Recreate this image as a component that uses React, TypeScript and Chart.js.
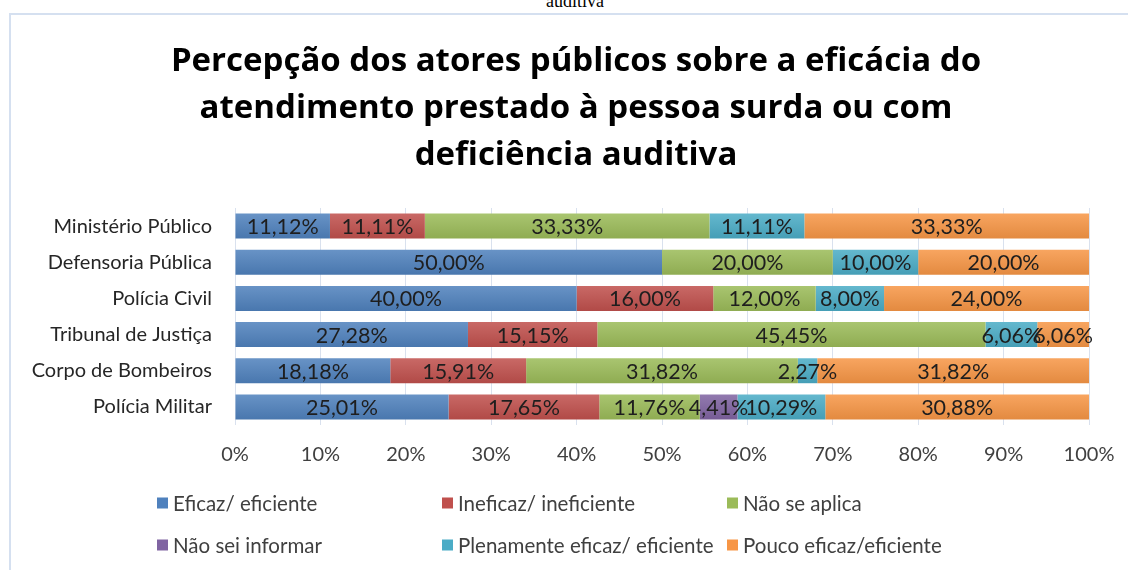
import React, { useEffect, useRef } from "react";
import { Chart, registerables } from "chart.js";

Chart.register(...registerables);

const categories = [
  "Ministério Público",
  "Defensoria Pública",
  "Polícia Civil",
  "Tribunal de Justiça",
  "Corpo de Bombeiros",
  "Polícia Militar",
];
const seriesNames = [
  "Eficaz/ eficiente",
  "Ineficaz/ ineficiente",
  "Não se aplica",
  "Não sei informar",
  "Plenamente eficaz/ eficiente",
  "Pouco eficaz/eficiente",
];
const eficaz = [11.12, 50.0, 40.0, 27.28, 18.18, 25.01];
const ineficaz = [11.11, 0, 16.0, 15.15, 15.91, 17.65];
const naoSeAplica = [33.33, 20.0, 12.0, 45.45, 31.82, 11.76];
const naoSeiInformar = [0, 0, 0, 0, 0, 4.41];
const plenamente = [11.11, 10.0, 8.0, 6.06, 2.27, 10.29];
const poucoEficaz = [33.33, 20.0, 24.0, 6.06, 31.82, 30.88];
const seriesValues = [eficaz, ineficaz, naoSeAplica, naoSeiInformar, plenamente, poucoEficaz];
const seriesColors = ["#4F81BD", "#C0504D", "#9BBB59", "#8064A2", "#4BACC6", "#F79646"];
const titleLines = [
  "Percepção dos atores públicos sobre a eficácia do",
  "atendimento prestado à pessoa surda ou com",
  "deficiência auditiva",
];

const FONT = "Lato";
const BAR_PCT = 0.69;

function mix(hex: string, target: number, amt: number) {
  const n = parseInt(hex.slice(1), 16);
  const r = (n >> 16) & 255, g = (n >> 8) & 255, b = n & 255;
  const f = (c: number) => Math.round(c + (target - c) * amt);
  return `rgb(${f(r)},${f(g)},${f(b)})`;
}

function gradientFor(base: string) {
  return (ctx: any) => {
    if (ctx.type !== "data") return base;
    const chart = ctx.chart;
    const ys = chart.scales && chart.scales.y;
    if (!ys || !chart.chartArea) return base;
    const c = ys.getPixelForValue(ctx.dataIndex);
    const h = (ys.height / categories.length) * BAR_PCT / 2;
    const g = chart.ctx.createLinearGradient(0, c - h, 0, c + h);
    g.addColorStop(0, mix(base, 255, 0.14));
    g.addColorStop(1, mix(base, 0, 0.08));
    return g;
  };
}

const fmt = (v: number) => v.toFixed(2).replace(".", ",") + "%";

const dataLabelPlugin = {
  id: "dataLabels",
  afterDatasetsDraw(chart: any) {
    const ctx = chart.ctx;
    ctx.save();
    ctx.font = `21.5px ${FONT}`;
    ctx.fillStyle = "#1e1e1e";
    ctx.textAlign = "center";
    ctx.textBaseline = "middle";
    chart.data.datasets.forEach((ds: any, i: number) => {
      const meta = chart.getDatasetMeta(i);
      meta.data.forEach((bar: any, j: number) => {
        const v = ds.data[j];
        if (!v) return;
        const p = bar.getProps(["x", "y", "base"], true);
        ctx.fillText(fmt(v), (p.x + p.base) / 2, p.y + 1);
      });
    });
    ctx.restore();
  },
};

const legendCols = [157, 442, 727];
const legendRows = [503, 545];

const legendPlugin = {
  id: "customLegend",
  afterDraw(chart: any) {
    const ctx = chart.ctx;
    ctx.save();
    ctx.font = `20.5px ${FONT}`;
    ctx.textBaseline = "middle";
    ctx.textAlign = "left";
    seriesNames.forEach((name, i) => {
      const x = legendCols[i % 3];
      const y = legendRows[Math.floor(i / 3)];
      ctx.fillStyle = seriesColors[i];
      ctx.fillRect(x, y - 5.5, 11, 11);
      ctx.fillStyle = "#404040";
      ctx.fillText(name, x + 16, y + 1);
    });
    ctx.restore();
  },
};

// let the category labels extend left of the axis box (which is narrowed only to centre the title)
const unclipPlugin = {
  id: "unclipYLabels",
  afterLayout(chart: any) {
    if (chart.scales.y) chart.scales.y.left = 0;
  },
};

export default function App() {
  const ref = useRef<HTMLCanvasElement | null>(null);
  useEffect(() => {
    if (!ref.current) return;
    const chart = new Chart(ref.current, {
      type: "bar",
      data: {
        labels: categories,
        datasets: seriesValues.map((vals, i) => ({
          label: seriesNames[i],
          data: vals,
          backgroundColor: gradientFor(seriesColors[i]),
          borderWidth: 0,
          barPercentage: BAR_PCT,
          categoryPercentage: 1,
        })),
      },
      options: {
        indexAxis: "y",
        responsive: false,
        animation: false,
        devicePixelRatio: 1,
        layout: { padding: { left: 63, right: 39, top: 0, bottom: 95 } },
        plugins: {
          legend: { display: false },
          tooltip: { enabled: false },
          title: {
            display: true,
            text: titleLines,
            color: "#000000",
            font: { family: "'Open Sans'", size: 33, weight: "bold", lineHeight: 1.424 },
            padding: { top: 38.5, bottom: 28.5 },
          },
        },
        scales: {
          x: {
            stacked: true,
            min: 0,
            max: 100,
            ticks: {
              stepSize: 10,
              padding: 18,
              color: "#404040",
              font: { family: FONT, size: 20 },
              callback: (v: any) => v + "%",
            },
            grid: { color: "#D9E1EE", drawTicks: false },
            border: { display: false },
            afterFit: (s: any) => {
              s.height = 50;
              s.paddingLeft = 0;
              s.paddingRight = 0;
            },
          },
          y: {
            stacked: true,
            ticks: {
              padding: 23,
              color: "#262626",
              font: { family: FONT, size: 20 },
            },
            grid: { display: false, drawTicks: false },
            border: { display: false },
            afterFit: (s: any) => {
              s.width = 172;
              s.paddingTop = 0;
              s.paddingBottom = 0;
            },
          },
        },
      },
      plugins: [dataLabelPlugin, legendPlugin, unclipPlugin],
    } as any);
    return () => chart.destroy();
  }, []);

  return (
    <div
      style={{
        position: "absolute",
        left: 0,
        top: 0,
        width: 1128,
        height: 570,
        overflow: "hidden",
        background: "#ffffff",
      }}
    >
      <div
        style={{
          position: "absolute",
          top: -8,
          left: 11,
          width: 1128,
          textAlign: "center",
          fontFamily: "'Liberation Serif', 'Times New Roman', serif",
          fontSize: 18,
          lineHeight: "18px",
          color: "#000",
        }}
      >
        auditiva
      </div>
      <div
        style={{
          position: "absolute",
          left: 9,
          top: 13,
          width: 1300,
          height: 700,
          border: "2px solid #D5E0F0",
        }}
      />
      <canvas
        ref={ref}
        width={1128}
        height={570}
        style={{ position: "absolute", left: 0, top: 0, width: 1128, height: 570 }}
      />
    </div>
  );
}
